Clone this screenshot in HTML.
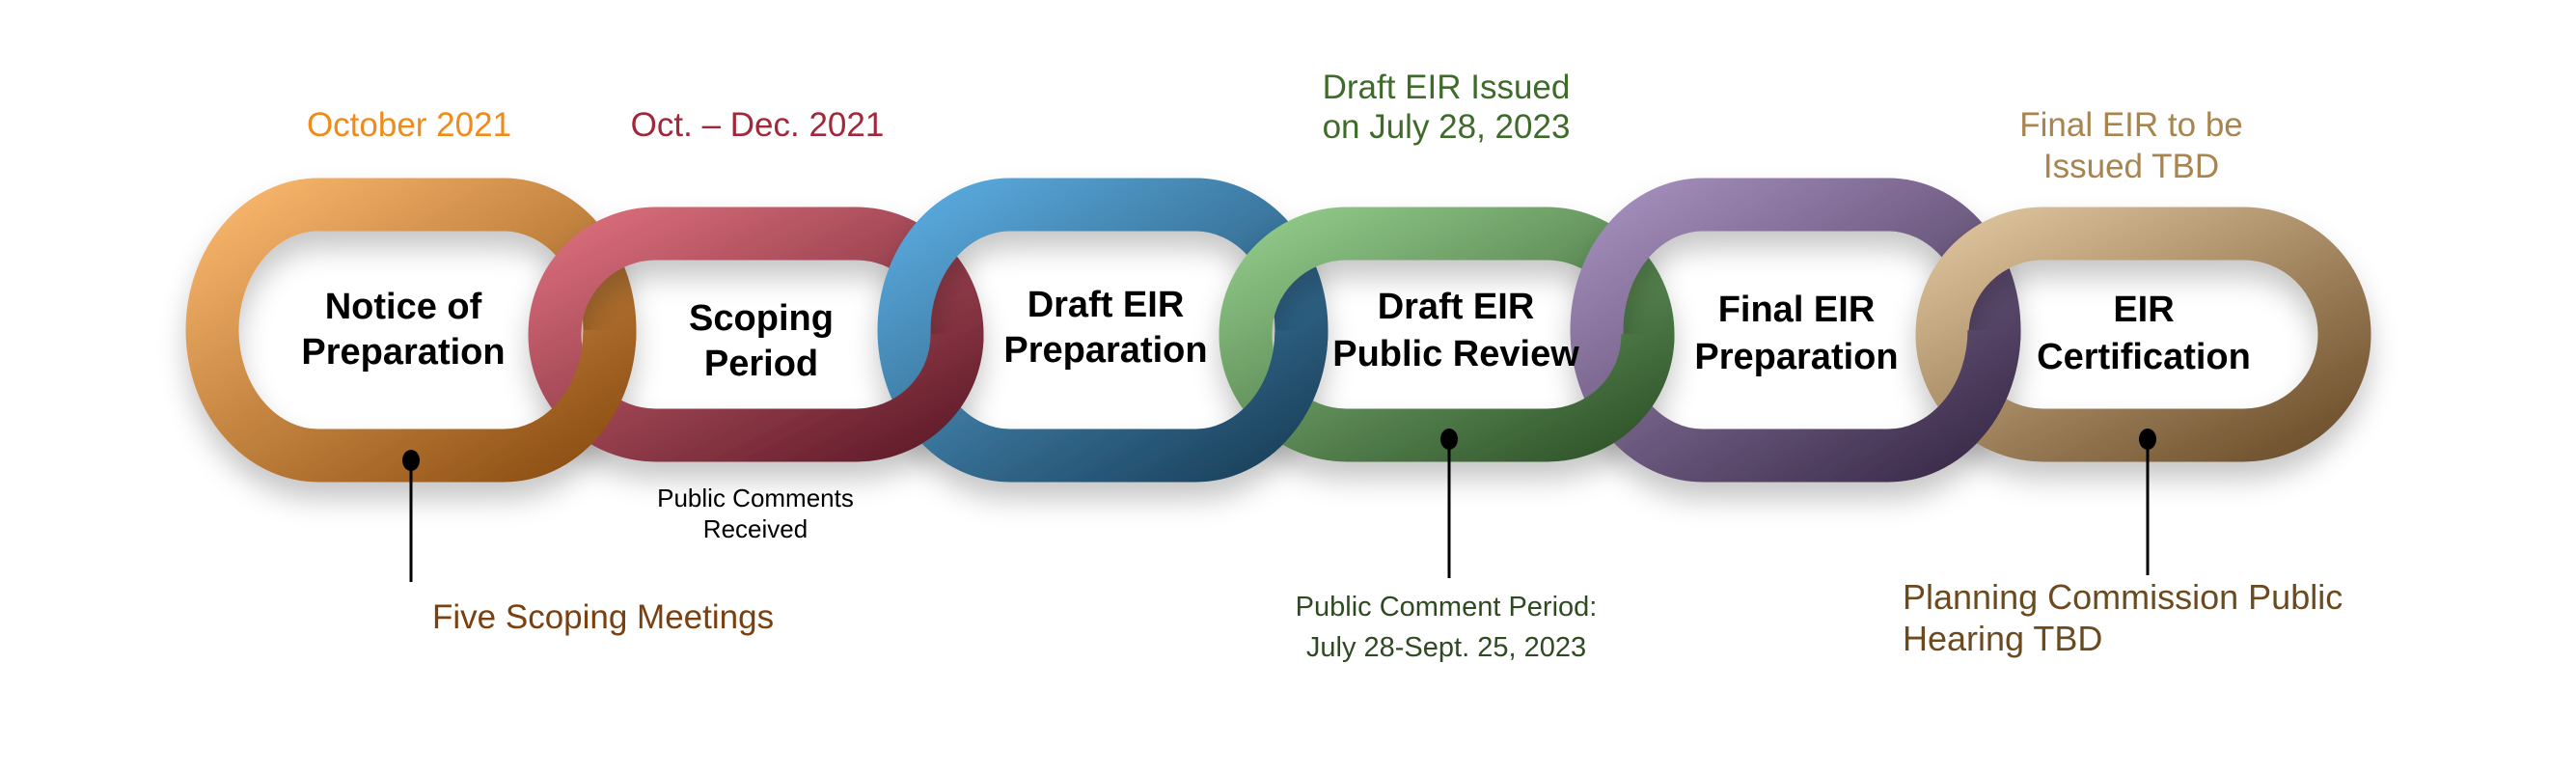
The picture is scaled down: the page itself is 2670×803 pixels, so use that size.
<!DOCTYPE html>
<html><head><meta charset="utf-8"><style>
html,body{margin:0;padding:0;background:#fff;}
svg{display:block;}
text{font-family:"Liberation Sans",Arial,sans-serif;}
.t{font-weight:bold;font-size:38px;fill:#000;text-anchor:middle;}
</style></head><body>
<svg width="2670" height="803" viewBox="0 0 2670 803" xmlns="http://www.w3.org/2000/svg">
<defs>
<filter id="sh" x="-20%" y="-20%" width="140%" height="160%"><feDropShadow dx="0" dy="18" stdDeviation="14" flood-color="#000" flood-opacity="0.22"/></filter>
<linearGradient id="g1" x1="0" y1="0" x2="1" y2="1"><stop offset="0" stop-color="#f8b66c"/><stop offset="1" stop-color="#8c4e12"/></linearGradient>
<linearGradient id="g2" x1="0" y1="0" x2="1" y2="1"><stop offset="0" stop-color="#d86c7a"/><stop offset="1" stop-color="#621c2a"/></linearGradient>
<linearGradient id="g3" x1="0" y1="0" x2="1" y2="1"><stop offset="0" stop-color="#5aaade"/><stop offset="1" stop-color="#1a405a"/></linearGradient>
<linearGradient id="g4" x1="0" y1="0" x2="1" y2="1"><stop offset="0" stop-color="#90c888"/><stop offset="1" stop-color="#30552a"/></linearGradient>
<linearGradient id="g5" x1="0" y1="0" x2="1" y2="1"><stop offset="0" stop-color="#a48ebc"/><stop offset="1" stop-color="#3a2a48"/></linearGradient>
<linearGradient id="g6" x1="0" y1="0" x2="1" y2="1"><stop offset="0" stop-color="#dcc29a"/><stop offset="1" stop-color="#6e502c"/></linearGradient>
<clipPath id="c1"><rect x="540" y="342" width="130" height="200"/></clipPath>
<clipPath id="c2"><rect x="900" y="346" width="130" height="200"/></clipPath>
<clipPath id="c3"><rect x="1260" y="342" width="130" height="200"/></clipPath>
<clipPath id="c4"><rect x="1620" y="346" width="130" height="200"/></clipPath>
<clipPath id="c5"><rect x="1980" y="342" width="130" height="200"/></clipPath>
</defs>

<g fill="none" stroke-width="55">
<rect x="220" y="212" width="412" height="260" rx="110" ry="130" stroke="url(#g1)" filter="url(#sh)"/>
<rect x="575" y="242" width="417" height="209" rx="105" ry="104" stroke="url(#g2)" filter="url(#sh)"/>
<rect x="937" y="212" width="412" height="260" rx="110" ry="130" stroke="url(#g3)" filter="url(#sh)"/>
<rect x="1291" y="242" width="417" height="209" rx="105" ry="104" stroke="url(#g4)" filter="url(#sh)"/>
<rect x="1655" y="212" width="412" height="260" rx="110" ry="130" stroke="url(#g5)" filter="url(#sh)"/>
<rect x="2013" y="242" width="417" height="209" rx="105" ry="104" stroke="url(#g6)" filter="url(#sh)"/>
<rect x="220" y="212" width="412" height="260" rx="110" ry="130" stroke="url(#g1)" clip-path="url(#c1)"/>
<rect x="575" y="242" width="417" height="209" rx="105" ry="104" stroke="url(#g2)" clip-path="url(#c2)"/>
<rect x="937" y="212" width="412" height="260" rx="110" ry="130" stroke="url(#g3)" clip-path="url(#c3)"/>
<rect x="1291" y="242" width="417" height="209" rx="105" ry="104" stroke="url(#g4)" clip-path="url(#c4)"/>
<rect x="1655" y="212" width="412" height="260" rx="110" ry="130" stroke="url(#g5)" clip-path="url(#c5)"/>
</g>

<text class="t" x="418" y="330">Notice of</text><text class="t" x="418" y="377">Preparation</text>
<text class="t" x="789" y="342">Scoping</text><text class="t" x="789" y="389">Period</text>
<text class="t" x="1146" y="328">Draft EIR</text><text class="t" x="1146" y="375">Preparation</text>
<text class="t" x="1509" y="330">Draft EIR</text><text class="t" x="1509" y="379">Public Review</text>
<text class="t" x="1862" y="333">Final EIR</text><text class="t" x="1862" y="382">Preparation</text>
<text class="t" x="2222" y="333">EIR</text><text class="t" x="2222" y="382">Certification</text>

<g font-size="35" text-anchor="middle">
<text x="424" y="141" fill="#f08a18">October 2021</text>
<text x="785" y="141" fill="#a0283a">Oct. – Dec. 2021</text>
<text x="1499" y="102" fill="#3f6b2a">Draft EIR Issued</text>
<text x="1499" y="143" fill="#3f6b2a">on July 28, 2023</text>
<text x="2209" y="141" fill="#a8844e">Final EIR to be</text>
<text x="2209" y="184" fill="#a8844e">Issued TBD</text>
</g>

<g stroke="#000" stroke-width="3">
<line x1="426" y1="477" x2="426" y2="603"/>
<line x1="1502" y1="455" x2="1502" y2="599"/>
<line x1="2226" y1="455" x2="2226" y2="596"/>
</g>
<ellipse cx="426" cy="477" rx="9" ry="11" fill="#000"/>
<ellipse cx="1502" cy="455" rx="9" ry="11" fill="#000"/>
<ellipse cx="2226" cy="455" rx="9" ry="11" fill="#000"/>

<text x="448" y="651" font-size="35" fill="#7a4010">Five Scoping Meetings</text>
<text x="783" y="525" font-size="26" fill="#000" text-anchor="middle">Public Comments</text>
<text x="783" y="557" font-size="26" fill="#000" text-anchor="middle">Received</text>
<text x="1499" y="638" font-size="29" fill="#2f4a22" text-anchor="middle">Public Comment Period:</text>
<text x="1499" y="680" font-size="29" fill="#2f4a22" text-anchor="middle">July 28-Sept. 25, 2023</text>
<text x="1972" y="631" font-size="36" fill="#6b4a20">Planning Commission Public</text>
<text x="1972" y="674" font-size="36" fill="#6b4a20">Hearing TBD</text>
</svg>
</body></html>
